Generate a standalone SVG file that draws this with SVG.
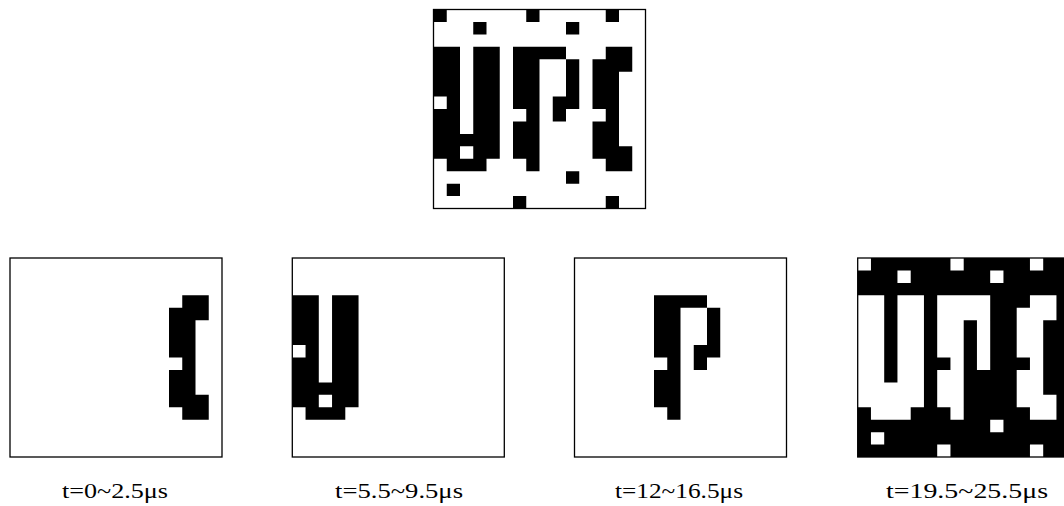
<svg xmlns="http://www.w3.org/2000/svg" xmlns:xlink="http://www.w3.org/1999/xlink" width="1064" height="506" viewBox="0 0 1064 506">
  <style>
    .frame { fill: none; stroke: #000; stroke-width: 1.3; }
    .lbl { font-family: "Liberation Serif", "Times New Roman", serif; font-size: 22px; fill: #000; text-anchor: middle; }
  </style>
  <defs>
    <path id="dots" d="M0,0h1v1h-1z M7,0h1v1h-1z M13,0h1v1h-1z M3,1h1v1h-1z M10,1h1v1h-1z M10,13h1v1h-1z M1,14h1v1h-1z M6,15h1v1h-1z M13,15h1v1h-1z"/>
    <path id="letterU" fill-rule="evenodd" d="M0,3H2V10H3V3H5V12H4V13H1V12H0Z M0,7h1v1h-1z M2,11h1v1h-1z"/>
    <path id="letterUsolid" d="M0,3H2V10H3V3H5V12H4V13H1V12H0Z"/>
    <path id="letterP" d="M6,3H10V4H11V8H10V9H9V7H10V4H8V13H7V12H6V9H7V8H6Z"/>
    <path id="letterPalt" d="M6,3H10V9H9V5H8V13H7V12H6V9H7V8H6Z"/>
    <path id="letterC" d="M13,3H15V5H14V11H15V13H13V12H12V9H13V8H12V4H13Z"/>
  </defs>

  <g id="original">
    <rect x="433.5" y="9.5" width="212" height="199" fill="#fff"/>
    <g transform="translate(433.5,9.5) scale(13.25,12.44)" fill="#000">
      <use xlink:href="#dots"/>
      <use xlink:href="#letterU"/>
      <use xlink:href="#letterP"/>
      <use xlink:href="#letterC"/>
    </g>
    <rect class="frame" x="433.5" y="9.5" width="212" height="199"/>
  </g>

  <g id="frame1">
    <rect x="10" y="258" width="212" height="199" fill="#fff"/>
    <g transform="translate(10,258) scale(13.25,12.44)" fill="#000">
      <use xlink:href="#letterC"/>
    </g>
    <rect class="frame" x="10" y="258" width="212" height="199"/>
    <text class="lbl" x="115" y="498" textLength="106" lengthAdjust="spacingAndGlyphs">t=0~2.5μs</text>
  </g>

  <g id="frame2">
    <rect x="292.3" y="258" width="212" height="199" fill="#fff"/>
    <g transform="translate(292.3,258) scale(13.25,12.44)" fill="#000">
      <use xlink:href="#letterU"/>
    </g>
    <rect class="frame" x="292.3" y="258" width="212" height="199"/>
    <text class="lbl" x="399" y="498" textLength="128" lengthAdjust="spacingAndGlyphs">t=5.5~9.5μs</text>
  </g>

  <g id="frame3">
    <rect x="574.5" y="258" width="212" height="199" fill="#fff"/>
    <g transform="translate(574.5,258) scale(13.25,12.44)" fill="#000">
      <use xlink:href="#letterP"/>
    </g>
    <rect class="frame" x="574.5" y="258" width="212" height="199"/>
    <text class="lbl" x="679" y="498" textLength="128" lengthAdjust="spacingAndGlyphs">t=12~16.5μs</text>
  </g>

  <g id="frame4">
    <rect x="857.7" y="258" width="212" height="199" fill="#000"/>
    <g transform="translate(857.7,258) scale(13.25,12.44)" fill="#fff">
      <use xlink:href="#dots"/>
      <use xlink:href="#letterUsolid"/>
      <use xlink:href="#letterPalt"/>
      <use xlink:href="#letterC"/>
    </g>
    <rect class="frame" x="857.7" y="258" width="212" height="199"/>
    <text class="lbl" x="967" y="498" textLength="162" lengthAdjust="spacingAndGlyphs">t=19.5~25.5μs</text>
  </g>

  <g id="connectors"/>
</svg>
